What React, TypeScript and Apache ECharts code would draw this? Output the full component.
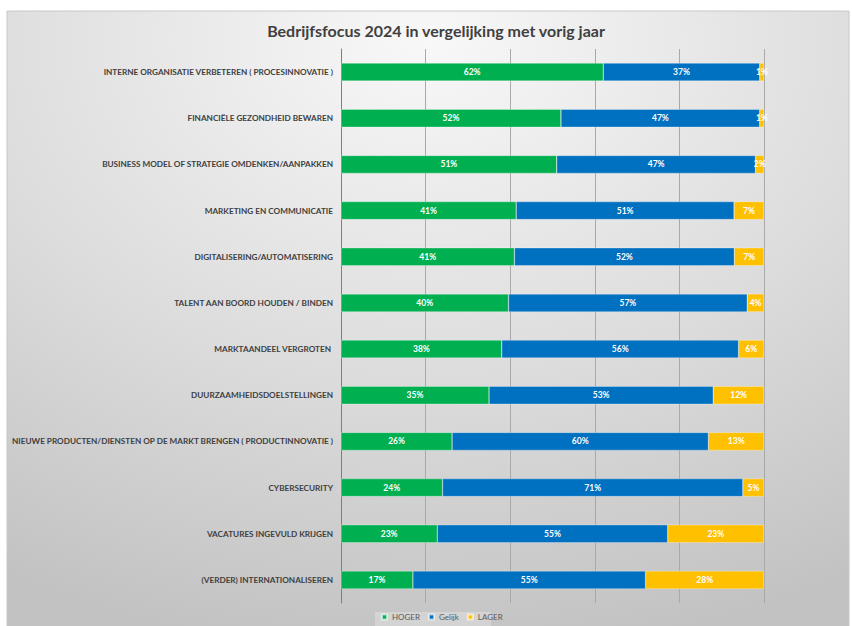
import React, { useEffect, useRef } from "react";
import * as echarts from "echarts";

const categories = [
  "INTERNE ORGANISATIE VERBETEREN ( PROCESINNOVATIE )",
  "FINANCIËLE GEZONDHEID BEWAREN",
  "BUSINESS MODEL OF STRATEGIE OMDENKEN/AANPAKKEN",
  "MARKETING EN COMMUNICATIE",
  "DIGITALISERING/AUTOMATISERING",
  "TALENT AAN BOORD HOUDEN / BINDEN",
  "MARKTAANDEEL VERGROTEN ",
  "DUURZAAMHEIDSDOELSTELLINGEN",
  "NIEUWE PRODUCTEN/DIENSTEN OP DE MARKT BRENGEN ( PRODUCTINNOVATIE )",
  "CYBERSECURITY",
  "VACATURES INGEVULD KRIJGEN",
  "(VERDER) INTERNATIONALISEREN",
];
const hoger = [62, 52, 51, 41, 41, 40, 38, 35, 26, 24, 23, 17];
const gelijk = [37, 47, 47, 51, 52, 57, 56, 53, 60, 71, 55, 55];
const lager = [1, 1, 2, 7, 7, 4, 6, 12, 13, 5, 23, 28];
const seriesNames = ["HOGER", "Gelijk", "LAGER"];
const colors = ["#00B050", "#0070C0", "#FFC000"];
const titleText = "Bedrijfsfocus 2024 in vergelijking met vorig jaar";

const FONT = "Lato, 'Open Sans', sans-serif";

export default function App() {
  const ref = useRef<HTMLDivElement>(null);
  useEffect(() => {
    if (!ref.current) return;
    const chart = echarts.init(ref.current, undefined, { renderer: "svg" });
    const raw = [hoger, gelijk, lager];
    const totals = categories.map((_, i) => hoger[i] + gelijk[i] + lager[i]);
    const series = raw.map((arr, s) => ({
      name: seriesNames[s],
      type: "bar" as const,
      stack: "total",
      barWidth: 18,
      itemStyle: { color: colors[s], borderColor: "rgba(255,255,255,0.6)", borderWidth: 0.5 },
      label: {
        show: true,
        position: "inside" as const,
        color: "#ffffff",
        fontSize: 8.5,
        fontWeight: "bold" as const,
        fontFamily: FONT,
        formatter: (p: any) => `${arr[p.dataIndex]}%`,
      },
      data: arr.map((v, i) => (v / totals[i]) * 100),
    }));
    chart.setOption({
      animation: false,
      textStyle: { fontFamily: FONT },
      graphic: [
        {
          type: "rect",
          z: -10,
          silent: true,
          shape: { x: 7, y: 11, width: 842, height: 616 },
          style: {
            fill: new echarts.graphic.RadialGradient(0.5, 0.05, 1.0, [
              { offset: 0, color: "#f8f8f8" },
              { offset: 0.55, color: "#dcdcdc" },
              { offset: 1, color: "#c2c2c2" },
            ]),
            stroke: "#c8c8c8",
            lineWidth: 1,
          },
        },
        {
          type: "rect",
          z: -5,
          silent: true,
          shape: { x: 375, y: 612, width: 116, height: 15 },
          style: { fill: "rgba(255,255,255,0.25)" },
        },
      ],
      title: {
        text: titleText,
        left: 431,
        textAlign: "center",
        top: 17,
        textStyle: { fontSize: 16, fontWeight: "bold", color: "#404040", fontFamily: FONT },
      },
      legend: {
        data: seriesNames,
        left: 381,
        top: 613,
        padding: 0,
        itemWidth: 5,
        itemHeight: 5,
        itemGap: 8,
        icon: "rect",
        textStyle: { fontSize: 8, color: "#595959", fontFamily: FONT },
      },
      grid: { left: 341, right: 88, top: 49, bottom: 23, containLabel: false, outerBoundsMode: "none" },
      xAxis: {
        type: "value",
        min: 0,
        max: 100,
        interval: 20,
        axisLabel: { show: false },
        axisLine: { show: false },
        axisTick: { show: false },
        splitLine: { lineStyle: { color: "#a9a9a9", width: 1 } },
      },
      yAxis: {
        type: "category",
        inverse: true,
        data: categories,
        axisLine: { show: true, lineStyle: { color: "#7f7f7f", width: 1 } },
        axisTick: { show: false },
        axisLabel: {
          fontSize: 8.2,
          fontWeight: "bold",
          color: "#404040",
          margin: 8,
          overflow: "none",
          fontFamily: FONT,
        },
      },
      series,
    });
    return () => chart.dispose();
  }, []);
  return (
    <div
      ref={ref}
      style={{ position: "absolute", left: 0, top: 0, width: 852, height: 626 }}
    />
  );
}
